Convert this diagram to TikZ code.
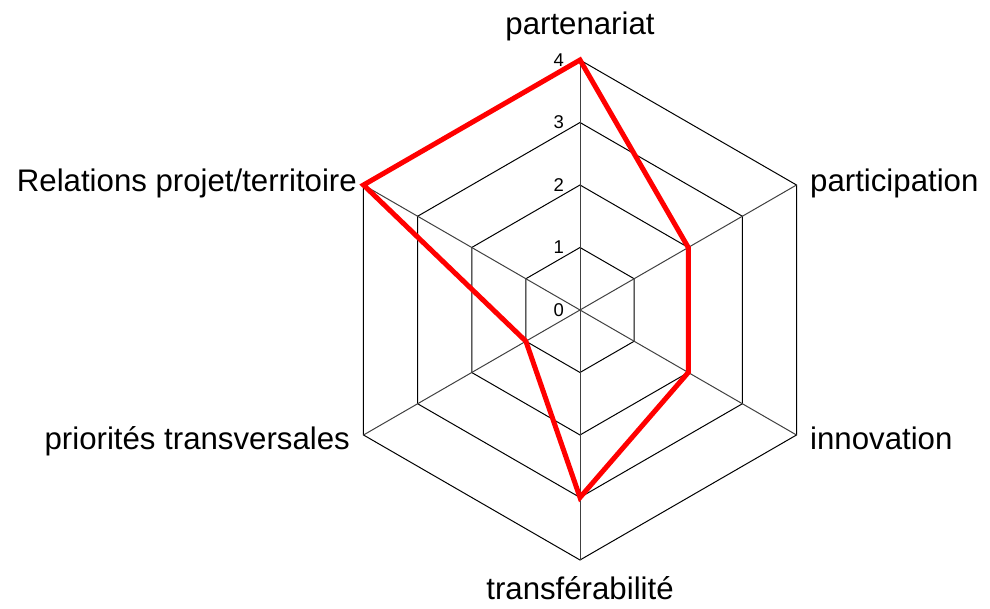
\documentclass[tikz,border=0pt]{standalone}
\usepackage{fontspec}
\setmainfont{Liberation Sans}
\begin{document}
\begin{tikzpicture}[x=1pt,y=1pt,
  gridline/.style={black, line width=1pt},
  spoke/.style={black!75, line width=1pt},
  series/.style={red, line width=5pt, line join=miter, miter limit=10},
  lbl/.style={inner sep=0pt, font=\fontsize{31.2}{37}\selectfont},
  ticklbl/.style={inner sep=0pt, anchor=east, font=\fontsize{18.5}{22}\selectfont}]
\useasboundingbox (0,0) rectangle (990,609);
\begin{scope}[shift={(580,299)}]
  \coordinate (O) at (0,0);
  % rings
  \foreach \r in {1,2,3,4} {
    \draw[gridline] (90:\r*62.5) -- (30:\r*62.5) -- (-30:\r*62.5) -- (-90:\r*62.5)
      -- (-150:\r*62.5) -- (150:\r*62.5) -- cycle;
  }
  % spokes
  \foreach \a [count=\i] in {90,30,-30,-90,-150,150} {
    \coordinate (A\i) at (\a:250);
    \draw[spoke] (O) -- (A\i);
  }
  % tick labels
  \foreach \v in {0,1,2,3,4} {
    \node[ticklbl] (t\v) at (-16,\v*62.5) {\v};
  }
  % data series
  \coordinate (P1) at (90:250);
  \coordinate (P2) at (30:125);
  \coordinate (P3) at (-30:125);
  \coordinate (P4) at (-90:187.5);
  \coordinate (P5) at (-150:62.5);
  \coordinate (P6) at (150:250);
  \draw[series] (P1) -- (P2) -- (P3) -- (P4) -- (P5) -- (P6) -- cycle;
\end{scope}
% axis labels
\node[lbl, anchor=base] (l1) at (580,574) {partenariat};
\node[lbl, anchor=base west] (l2) at (810,417) {participation};
\node[lbl, anchor=base west] (l3) at (810,159) {innovation};
\node[lbl, anchor=base] (l4) at (580,9) {transférabilité};
\node[lbl, anchor=base east] (l5) at (350,159) {priorités transversales};
\node[lbl, anchor=base east] (l6) at (357,417) {Relations projet/territoire};
\end{tikzpicture}
\end{document}
